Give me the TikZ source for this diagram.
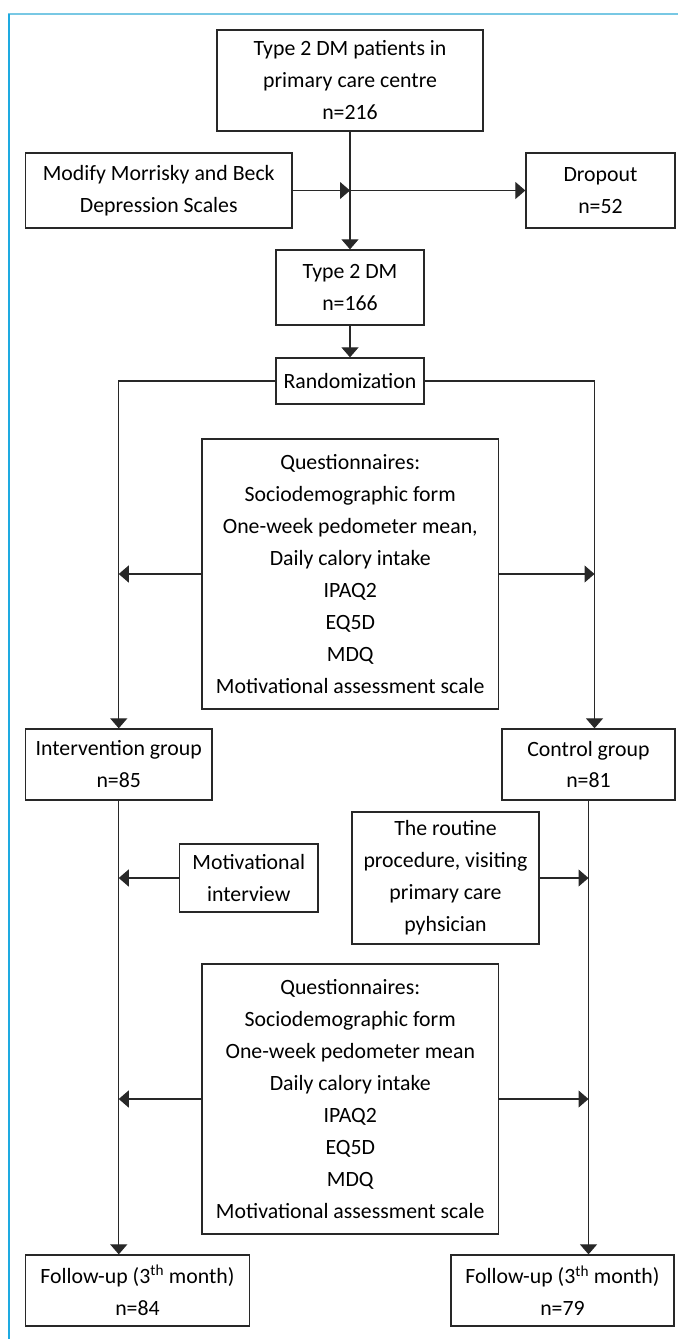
\documentclass[tikz,border=0pt]{standalone}
\usepackage{fontspec}
\setmainfont{Carlito}
\usetikzlibrary{arrows.meta,calc}
\definecolor{framea}{RGB}{120,200,228}
\definecolor{frameb}{RGB}{30,170,225}
\definecolor{ink}{RGB}{40,40,40}
\tikzset{
  box/.style={draw=ink, line width=1.3pt, align=center, inner sep=0pt,
    font=\fontsize{21.8}{32}\selectfont, text=black},
  conn/.style={draw=ink, line width=1.1pt},
  arr/.style={conn, -{Triangle[length=10pt,width=17pt]}},
}
\begin{document}
\begin{tikzpicture}[x=1pt,y=-1pt]
\useasboundingbox (0,0) rectangle (678,1339);
\draw[framea, line width=2.2pt] (8,14) -- (678,14);
\draw[frameb, line width=1.6pt] (9,14) -- (9,1339);

\node[box, minimum width=266pt, minimum height=101pt] (top) at (350,80.5) {Type 2 DM patients in\\primary care centre\\n=216};
\node[box, minimum width=266.5pt, minimum height=75pt] (mod) at (158.75,190.5) {Modify Morrisky and Beck\\Depression Scales};
\node[box, minimum width=149pt, minimum height=75pt] (drop) at (600.5,190.5) {Dropout\\n=52};
\node[box, minimum width=148pt, minimum height=75pt] (dm) at (350,287.5) {Type 2 DM\\n=166};
\node[box, minimum width=148pt, minimum height=46pt] (rand) at (350,381) {Randomization};
\node[box, minimum width=296.5pt, minimum height=270pt] (qa) at (350.25,574) {Questionnaires:\\Sociodemographic form\\One-week pedometer mean,\\Daily calory intake\\IPAQ2\\EQ5D\\MDQ\\Motivational assessment scale};
\node[box, minimum width=186.5pt, minimum height=71pt] (int) at (118.75,764.5) {Intervention group\\n=85};
\node[box, minimum width=173pt, minimum height=71pt] (ctrl) at (588.5,764.5) {Control group\\n=81};
\node[box, minimum width=138.5pt, minimum height=68pt] (mi) at (248.75,878) {Motivational\\interview};
\node[box, minimum width=187pt, minimum height=132pt] (rt) at (445.5,878) {The routine\\procedure, visiting\\primary care\\pyhsician};
\node[box, minimum width=296.5pt, minimum height=270pt] (qb) at (350.25,1099) {Questionnaires:\\Sociodemographic form\\One-week pedometer mean\\Daily calory intake\\IPAQ2\\EQ5D\\MDQ\\Motivational assessment scale};
\node[box, minimum width=224pt, minimum height=71pt] (fl) at (137.5,1290.5) {Follow-up (3\textsuperscript{th} month)\\n=84};
\node[box, minimum width=223pt, minimum height=71pt] (fr) at (562.5,1290.5) {Follow-up (3\textsuperscript{th} month)\\n=79};

\coordinate (jn) at (350,190.5);
\coordinate (rl) at (118.75,381);
\coordinate (rr) at (594.5,381);

\draw[arr] (top.south) -- (dm.north);
\draw[arr] (mod.east) -- (jn);
\draw[arr] (jn) -- (drop.west);
\draw[arr] (dm.south) -- (rand.north);
\draw[arr] (rand.west) -- (rl) -- (int.north);
\draw[arr] (rand.east) -- (rr) -- (rr |- ctrl.north);
\draw[arr] (qa.west) -- (qa.west -| rl);
\draw[arr] (qa.east) -- (qa.east -| rr);
\draw[arr] (int.south) -- (int.south |- fl.north);
\draw[arr] (ctrl.south) -- (ctrl.south |- fr.north);
\draw[arr] (mi.west) -- (mi.west -| int.south);
\draw[arr] (rt.east) -- (rt.east -| ctrl.south);
\draw[arr] (qb.west) -- (qb.west -| int.south);
\draw[arr] (qb.east) -- (qb.east -| ctrl.south);
\end{tikzpicture}
\end{document}
